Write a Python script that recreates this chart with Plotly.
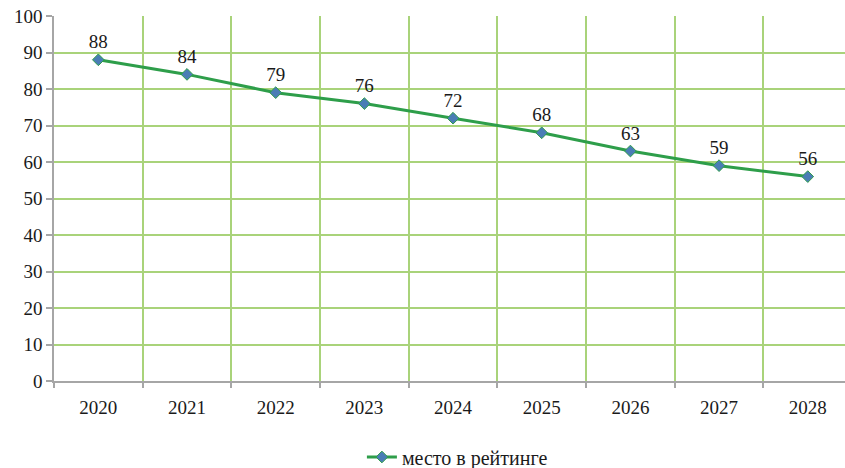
import plotly.graph_objects as go

years = ["2020", "2021", "2022", "2023", "2024", "2025", "2026", "2027", "2028"]
values = [88, 84, 79, 76, 72, 68, 63, 59, 56]
series_name = "место в рейтинге"
y_ticks = [0, 10, 20, 30, 40, 50, 60, 70, 80, 90, 100]

idx = list(range(len(years)))
bounds = [i - 0.5 for i in range(len(years))]

FONT = "Times New Roman, Liberation Serif, Times, serif"
GRID = "#a9d37a"
AXIS = "#a6a6a6"
FS = 19

fig = go.Figure()
fig.add_trace(go.Scatter(
    x=idx, y=values, mode="lines+markers+text", name=series_name,
    text=[str(v) for v in values], textposition="top center",
    textfont=dict(family=FONT, size=FS, color="#1a1a1a"),
    line=dict(color="#2e9e4a", width=3),
    marker=dict(symbol="diamond", size=9, color="#4a7db5",
                line=dict(color="#2e9e4a", width=1)),
    xaxis="x", yaxis="y",
))
fig.add_trace(go.Scatter(x=[bounds[0]], y=[0], mode="markers", marker=dict(opacity=0),
                         showlegend=False, hoverinfo="skip", xaxis="x2", yaxis="y"))

rng = [-0.5, 8.42]
fig.update_layout(
    width=845, height=468,
    margin=dict(l=54, r=0, t=16, b=87),
    paper_bgcolor="white", plot_bgcolor="white",
    font=dict(family=FONT, size=FS, color="#1a1a1a"),
    modebar=dict(bgcolor="rgba(0,0,0,0)", color="rgba(0,0,0,0)", activecolor="rgba(0,0,0,0)"),
    showlegend=True,
    legend=dict(orientation="h", x=0.51, xanchor="center", yref="container",
                y=(468 - 457) / 468, yanchor="middle",
                font=dict(family=FONT, size=20, color="#1a1a1a"), itemwidth=30),
    xaxis=dict(range=rng, tickmode="array", tickvals=idx, ticktext=years,
               showgrid=False, zeroline=False, showline=True, linecolor=AXIS, linewidth=1.5,
               ticks="", ticklabelstandoff=8, automargin=False,
               tickfont=dict(family=FONT, size=FS)),
    xaxis2=dict(range=rng, overlaying="x", side="bottom", tickmode="array", tickvals=bounds,
                showticklabels=False, showgrid=True, gridcolor=GRID, gridwidth=1.5,
                ticks="outside", ticklen=6, tickcolor=AXIS, tickwidth=1.5, zeroline=False,
                automargin=False),
    yaxis=dict(range=[0, 100], tickmode="array", tickvals=y_ticks,
               showgrid=True, gridcolor=GRID, gridwidth=1.5, zeroline=False,
               showline=True, linecolor=AXIS, linewidth=1.5, automargin=False,
               ticks="outside", ticklen=6, tickcolor=AXIS, tickwidth=1.5,
               tickfont=dict(family=FONT, size=FS)),
)
fig.write_html(
    "out.html",
    post_script=(
        "document.body.style.margin='0';"
        "var s=document.createElement('style');"
        "s.textContent='.modebar-container{display:none !important;}';"
        "document.head.appendChild(s);"
    ),
)
